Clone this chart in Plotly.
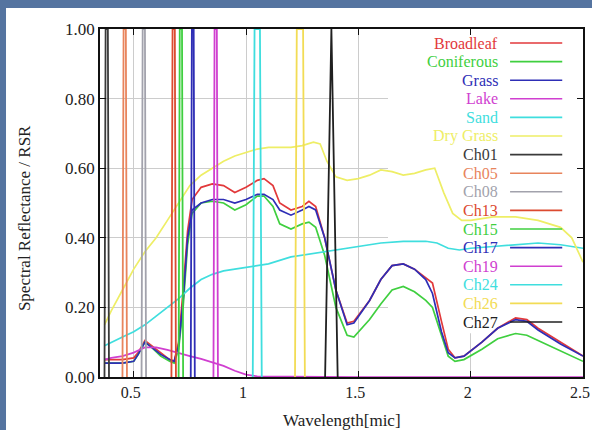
import plotly.graph_objects as go

# ---------------- data ----------------
wl_veg = [0.37, 0.40, 0.45, 0.50, 0.52, 0.55, 0.58, 0.62, 0.66, 0.68, 0.70, 0.72, 0.74, 0.76,
          0.80, 0.85, 0.90, 0.95, 1.00, 1.05, 1.08, 1.12, 1.15, 1.20, 1.25, 1.28, 1.31, 1.35,
          1.40, 1.45, 1.48, 1.55, 1.60, 1.65, 1.70, 1.75, 1.80, 1.83, 1.87, 1.90, 1.93, 1.97,
          2.05, 2.12, 2.20, 2.25, 2.30, 2.40, 2.50]

broadleaf = [0.050, 0.050, 0.050, 0.055, 0.070, 0.105, 0.090, 0.070, 0.050, 0.045, 0.100, 0.250,
             0.420, 0.510, 0.545, 0.555, 0.550, 0.530, 0.545, 0.565, 0.570, 0.550, 0.500, 0.480,
             0.490, 0.505, 0.490, 0.400, 0.250, 0.155, 0.160, 0.220, 0.280, 0.320, 0.325, 0.310,
             0.285, 0.270, 0.160, 0.080, 0.055, 0.060, 0.100, 0.140, 0.170, 0.165, 0.140, 0.100,
             0.060]

coniferous = [0.040, 0.040, 0.040, 0.045, 0.065, 0.100, 0.085, 0.060, 0.045, 0.040, 0.080, 0.200,
              0.380, 0.470, 0.500, 0.505, 0.500, 0.480, 0.495, 0.520, 0.520, 0.490, 0.440, 0.425,
              0.440, 0.445, 0.430, 0.350, 0.200, 0.120, 0.115, 0.165, 0.210, 0.250, 0.260, 0.245,
              0.220, 0.200, 0.120, 0.060, 0.045, 0.050, 0.080, 0.110, 0.125, 0.120, 0.105, 0.075,
              0.045]

grass = [0.040, 0.040, 0.040, 0.045, 0.065, 0.100, 0.085, 0.065, 0.050, 0.045, 0.090, 0.220,
         0.400, 0.480, 0.500, 0.510, 0.510, 0.500, 0.510, 0.525, 0.525, 0.510, 0.480, 0.465,
         0.480, 0.490, 0.480, 0.400, 0.250, 0.150, 0.155, 0.220, 0.280, 0.320, 0.325, 0.310,
         0.280, 0.240, 0.130, 0.070, 0.055, 0.060, 0.100, 0.140, 0.165, 0.160, 0.135, 0.095,
         0.060]

wl_lake = [0.37, 0.40, 0.45, 0.50, 0.55, 0.60, 0.65, 0.70, 0.75, 0.80, 0.85, 0.90, 0.95, 1.00,
           1.05, 1.50, 2.00, 2.50]
lake = [0.050, 0.055, 0.060, 0.070, 0.085, 0.085, 0.078, 0.068, 0.060, 0.052, 0.042, 0.032,
        0.018, 0.007, 0.002, 0.0, 0.0, 0.0]

wl_sand = [0.37, 0.40, 0.45, 0.50, 0.55, 0.60, 0.65, 0.70, 0.75, 0.80, 0.85, 0.90, 0.95, 1.00,
           1.05, 1.10, 1.20, 1.30, 1.40, 1.50, 1.60, 1.70, 1.80, 1.85, 1.90, 1.95, 2.00, 2.10,
           2.20, 2.30, 2.40, 2.50]
sand = [0.090, 0.100, 0.115, 0.130, 0.150, 0.175, 0.200, 0.225, 0.255, 0.280, 0.295, 0.305,
        0.310, 0.315, 0.320, 0.325, 0.345, 0.355, 0.365, 0.375, 0.385, 0.390, 0.390, 0.385,
        0.370, 0.365, 0.370, 0.375, 0.380, 0.385, 0.380, 0.370]

wl_dry = [0.37, 0.40, 0.45, 0.50, 0.55, 0.60, 0.65, 0.70, 0.75, 0.80, 0.85, 0.90, 0.95, 1.00,
          1.05, 1.10, 1.15, 1.20, 1.25, 1.30, 1.33, 1.36, 1.40, 1.45, 1.50, 1.55, 1.60, 1.65,
          1.70, 1.75, 1.80, 1.84, 1.88, 1.92, 1.96, 2.00, 2.10, 2.20, 2.30, 2.40, 2.45, 2.50]
dry_grass = [0.150, 0.190, 0.250, 0.310, 0.360, 0.400, 0.450, 0.500, 0.550, 0.580, 0.600, 0.620,
             0.635, 0.645, 0.655, 0.660, 0.660, 0.660, 0.665, 0.675, 0.670, 0.620, 0.575, 0.565,
             0.570, 0.580, 0.595, 0.590, 0.580, 0.585, 0.595, 0.600, 0.530, 0.470, 0.450, 0.450,
             0.460, 0.460, 0.450, 0.430, 0.400, 0.330]

# relative spectral response of the sensor channels
ch01_wl = [0.370, 0.375, 0.385, 0.390]; ch01 = [0.0, 1.0, 1.0, 0.0]
ch05_wl = [0.450, 0.455, 0.465, 0.470]; ch05 = [0.0, 1.0, 1.0, 0.0]
ch08_wl = [0.535, 0.540, 0.550, 0.555]; ch08 = [0.0, 1.0, 1.0, 0.0]
ch13_wl = [0.668, 0.673, 0.683, 0.688]; ch13 = [0.0, 1.0, 1.0, 0.0]
ch15_wl = [0.700, 0.705, 0.715, 0.720]; ch15 = [0.0, 1.0, 1.0, 0.0]
ch17_wl = [0.754, 0.759, 0.767, 0.772]; ch17 = [0.0, 1.0, 1.0, 0.0]
ch19_wl = [0.855, 0.860, 0.870, 0.875]; ch19 = [0.0, 1.0, 1.0, 0.0]
ch24_wl = [1.030, 1.038, 1.062, 1.070]; ch24 = [0.0, 1.0, 1.0, 0.0]
ch26_wl = [1.218, 1.226, 1.254, 1.262]; ch26 = [0.0, 1.0, 1.0, 0.0]
ch27_wl = [1.352, 1.380, 1.408]; ch27 = [0.0, 1.0, 0.0]

x_ticks = [0.5, 1.0, 1.5, 2.0, 2.5]
x_ticktext = ["0.5", "1", "1.5", "2", "2.5"]
y_ticks = [0.0, 0.2, 0.4, 0.6, 0.8, 1.0]
y_ticktext = ["0.00", "0.20", "0.40", "0.60", "0.80", "1.00"]

series = [
    ("Broadleaf", wl_veg, broadleaf, "#e2393b", 1.7),
    ("Coniferous", wl_veg, coniferous, "#3fcf3f", 1.7),
    ("Grass", wl_veg, grass, "#2e2eb6", 1.7),
    ("Lake", wl_lake, lake, "#d03fd0", 1.7),
    ("Sand", wl_sand, sand, "#3fdede", 1.7),
    ("Dry Grass", wl_dry, dry_grass, "#eeee66", 1.7),
    ("Ch01", ch01_wl, ch01, "#3a3a3a", 1.8),
    ("Ch05", ch05_wl, ch05, "#e8845c", 1.8),
    ("Ch08", ch08_wl, ch08, "#a2a2ac", 1.8),
    ("Ch13", ch13_wl, ch13, "#dc4a30", 1.8),
    ("Ch15", ch15_wl, ch15, "#3fcf3f", 1.8),
    ("Ch17", ch17_wl, ch17, "#2e2eb6", 1.8),
    ("Ch19", ch19_wl, ch19, "#d03fd0", 1.8),
    ("Ch24", ch24_wl, ch24, "#3fdede", 1.8),
    ("Ch26", ch26_wl, ch26, "#f2dc55", 1.8),
    ("Ch27", ch27_wl, ch27, "#202020", 1.8),
]

FONT = "Liberation Serif, Times New Roman, serif"

fig = go.Figure()
for name, xs, ys, col, w in series:
    fig.add_trace(go.Scatter(x=xs, y=ys, mode="lines", name=name,
                             line=dict(color=col, width=w), showlegend=False))

# page: blue slide background with a white panel
fig.add_shape(type="rect", xref="paper", yref="paper", x0=-0.1946, x1=1.03, y0=-0.2, y1=1.0603,
              fillcolor="white", line=dict(width=0), layer="below")
# key area: grid is not drawn there (gnuplot style) -> white patch above grid, below traces
fig.add_shape(type="rect", xref="x", yref="y", x0=1.632, x1=2.5, y0=0.126, y1=1.0,
              fillcolor="white", line=dict(width=0), layer="between")

# key: right-aligned labels with line samples to their right
row0, dy = 43.0, 18.6
for i, (name, xs, ys, col, w) in enumerate(series):
    py = row0 + i * dy
    yp = (377 - py) / 348
    fig.add_annotation(x=0.828, y=yp, xref="paper", yref="paper", text=name, showarrow=False,
                       xanchor="right", yanchor="middle",
                       font=dict(family=FONT, size=16, color=col))
    fig.add_shape(type="line", xref="paper", yref="paper", x0=0.849, x1=0.957, y0=yp, y1=yp,
                  line=dict(color=col, width=1.6), layer="above")

fig.add_annotation(x=-0.155, y=0.457, xref="paper", yref="paper", text="Spectral Reflectance / RSR",
                   textangle=-90, showarrow=False, xanchor="center", yanchor="middle",
                   font=dict(family=FONT, size=17, color="#222"))
fig.add_annotation(x=0.501, y=-0.126, xref="paper", yref="paper", text="Wavelength[mic]",
                   showarrow=False, xanchor="center", yanchor="middle",
                   font=dict(family=FONT, size=17, color="#222"))

axis_common = dict(showline=True, linecolor="#111", linewidth=1.6, mirror="ticks",
                   ticks="inside", ticklen=6, tickcolor="#111", tickwidth=1.4,
                   showgrid=True, gridcolor="#cccccc", gridwidth=1, zeroline=False,
                   automargin=False, ticklabeloverflow="allow")

fig.update_xaxes(range=[0.35, 2.5], tickvals=x_ticks, ticktext=x_ticktext, ticklabelshift=-3,
                 tickfont=dict(family=FONT, size=16, color="#222"), **axis_common)
fig.update_yaxes(range=[0.0, 1.0], tickvals=y_ticks, ticktext=y_ticktext,
                 tickfont=dict(family=FONT, size=17, color="#222"), **axis_common)

fig.update_layout(width=592, height=430, margin=dict(l=100, r=9, t=29, b=53, autoexpand=False),
                  paper_bgcolor="#5574a0", plot_bgcolor="white", showlegend=False)

fig.write_html("out.html")
